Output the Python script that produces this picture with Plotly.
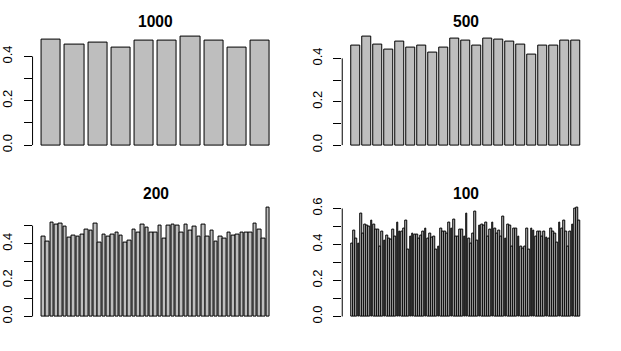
import plotly.graph_objects as go

titles = ["1000", "500", "200", "100"]

vals_1000 = [0.478, 0.455, 0.464, 0.441, 0.472, 0.472, 0.488, 0.470, 0.438, 0.472]

vals_500 = [0.457, 0.499, 0.466, 0.440, 0.478, 0.451, 0.457, 0.427, 0.452, 0.490,
            0.481, 0.458, 0.490, 0.485, 0.476, 0.464, 0.418, 0.460, 0.460, 0.481, 0.481]

vals_200 = [0.439, 0.414, 0.514, 0.505, 0.509, 0.496, 0.434, 0.446, 0.439, 0.450,
            0.480, 0.470, 0.509, 0.405, 0.453, 0.439, 0.453, 0.459, 0.444, 0.405,
            0.416, 0.480, 0.464, 0.505, 0.491, 0.459, 0.459, 0.500, 0.430, 0.500,
            0.505, 0.502, 0.461, 0.505, 0.471, 0.496, 0.441, 0.505, 0.441, 0.470,
            0.414, 0.441, 0.430, 0.459, 0.444, 0.453, 0.459, 0.464, 0.464, 0.509,
            0.480, 0.430, 0.597]

vals_100 = [0.404, 0.480, 0.431, 0.404, 0.572, 0.462, 0.513, 0.504, 0.498, 0.531,
            0.513, 0.482, 0.482, 0.391, 0.471, 0.422, 0.449, 0.435, 0.426, 0.482,
            0.444, 0.522, 0.471, 0.471, 0.491, 0.531, 0.373, 0.444, 0.462, 0.453,
            0.453, 0.435, 0.449, 0.471, 0.491, 0.431, 0.462, 0.437, 0.444, 0.371,
            0.386, 0.491, 0.471, 0.471, 0.458, 0.522, 0.491, 0.540, 0.444, 0.444,
            0.482, 0.482, 0.444, 0.572, 0.431, 0.404, 0.462, 0.582, 0.422, 0.504,
            0.513, 0.504, 0.522, 0.444, 0.482, 0.522, 0.491, 0.462, 0.480, 0.444,
            0.554, 0.431, 0.513, 0.504, 0.391, 0.491, 0.491, 0.444, 0.391, 0.380,
            0.391, 0.491, 0.373, 0.491, 0.480, 0.444, 0.471, 0.471, 0.444, 0.471,
            0.437, 0.431, 0.491, 0.471, 0.462, 0.408, 0.522, 0.491, 0.531, 0.471,
            0.391, 0.471, 0.513, 0.598, 0.603, 0.531]

panels = [vals_1000, vals_500, vals_200, vals_100]

# y tick positions per panel (labels shown on every other tick, as in R)
yticks_1000 = [0.0, 0.1, 0.2, 0.3, 0.4]
yticks_500 = [0.0, 0.1, 0.2, 0.3, 0.4]
yticks_200 = [0.0, 0.1, 0.2, 0.3, 0.4, 0.5]
yticks_100 = [0.0, 0.1, 0.2, 0.3, 0.4, 0.5, 0.6]
panel_ticks = [yticks_1000, yticks_500, yticks_200, yticks_100]

W, H = 621, 351
xdoms = [[31.6 / W, 278.4 / W], [341.8 / W, 589.2 / W]]
ydoms = [[1 - 147.9 / H, 1 - 27.2 / H], [1 - 323.3 / H, 1 - 202.2 / H]]
title_y = [1 - 16.3 / H, 1 - 191.6 / H]

FONT = "Liberation Sans, Arial, sans-serif"

fig = go.Figure()
shapes = []
annotations = []

for i, vals in enumerate(panels):
    r, c = divmod(i, 2)
    n = len(vals)
    ax = "" if i == 0 else str(i + 1)
    xs = [0.7 + 1.2 * k for k in range(n)]
    fig.add_trace(go.Bar(
        x=xs, y=vals, width=1.0,
        marker=dict(color="#bebebe", line=dict(color="black", width=1)),
        xaxis="x" + ax, yaxis="y" + ax, showlegend=False, hoverinfo="skip",
    ))
    # R barplot style limits
    span = 1.2 * n - 0.2
    xr = [0.2 - 0.04 * span, 1.2 * n + 0.04 * span]
    mx = max(vals)
    lo = -0.01 * mx
    ext = 0.04 * (mx - lo)
    yr = [lo - ext, mx + ext]
    ticks = panel_ticks[i]
    ttext = [f"{t:.1f}" if round(t * 10) % 2 == 0 else "" for t in ticks]
    fig.layout["xaxis" + ax] = dict(domain=xdoms[c], range=xr, visible=False,
                                    anchor="y" + ax)
    fig.layout["yaxis" + ax] = dict(
        domain=ydoms[r], range=yr, anchor="x" + ax,
        showgrid=False, zeroline=False, showline=False,
        tickmode="array", tickvals=ticks, ticktext=ttext,
        ticks="outside", ticklen=8, tickwidth=1, tickcolor="black",
        tickangle=-90, ticklabelstandoff=6,
        tickfont=dict(family=FONT, size=13, color="black"),
    )
    shapes.append(dict(type="line", xref=f"x{ax} domain", yref="y" + ax,
                       x0=0, x1=0, y0=ticks[0], y1=ticks[-1],
                       line=dict(color="black", width=1)))
    annotations.append(dict(text="<b>" + titles[i] + "</b>", xref="paper", yref="paper",
                            x=sum(xdoms[c]) / 2, y=title_y[r], xanchor="center",
                            yanchor="middle", showarrow=False,
                            font=dict(family=FONT, size=15.6, color="black")))

fig.update_layout(
    width=W, height=H, margin=dict(l=0, r=0, t=0, b=0),
    paper_bgcolor="white", plot_bgcolor="white",
    shapes=shapes, annotations=annotations, bargap=0,
)

fig.write_html("out.html")
